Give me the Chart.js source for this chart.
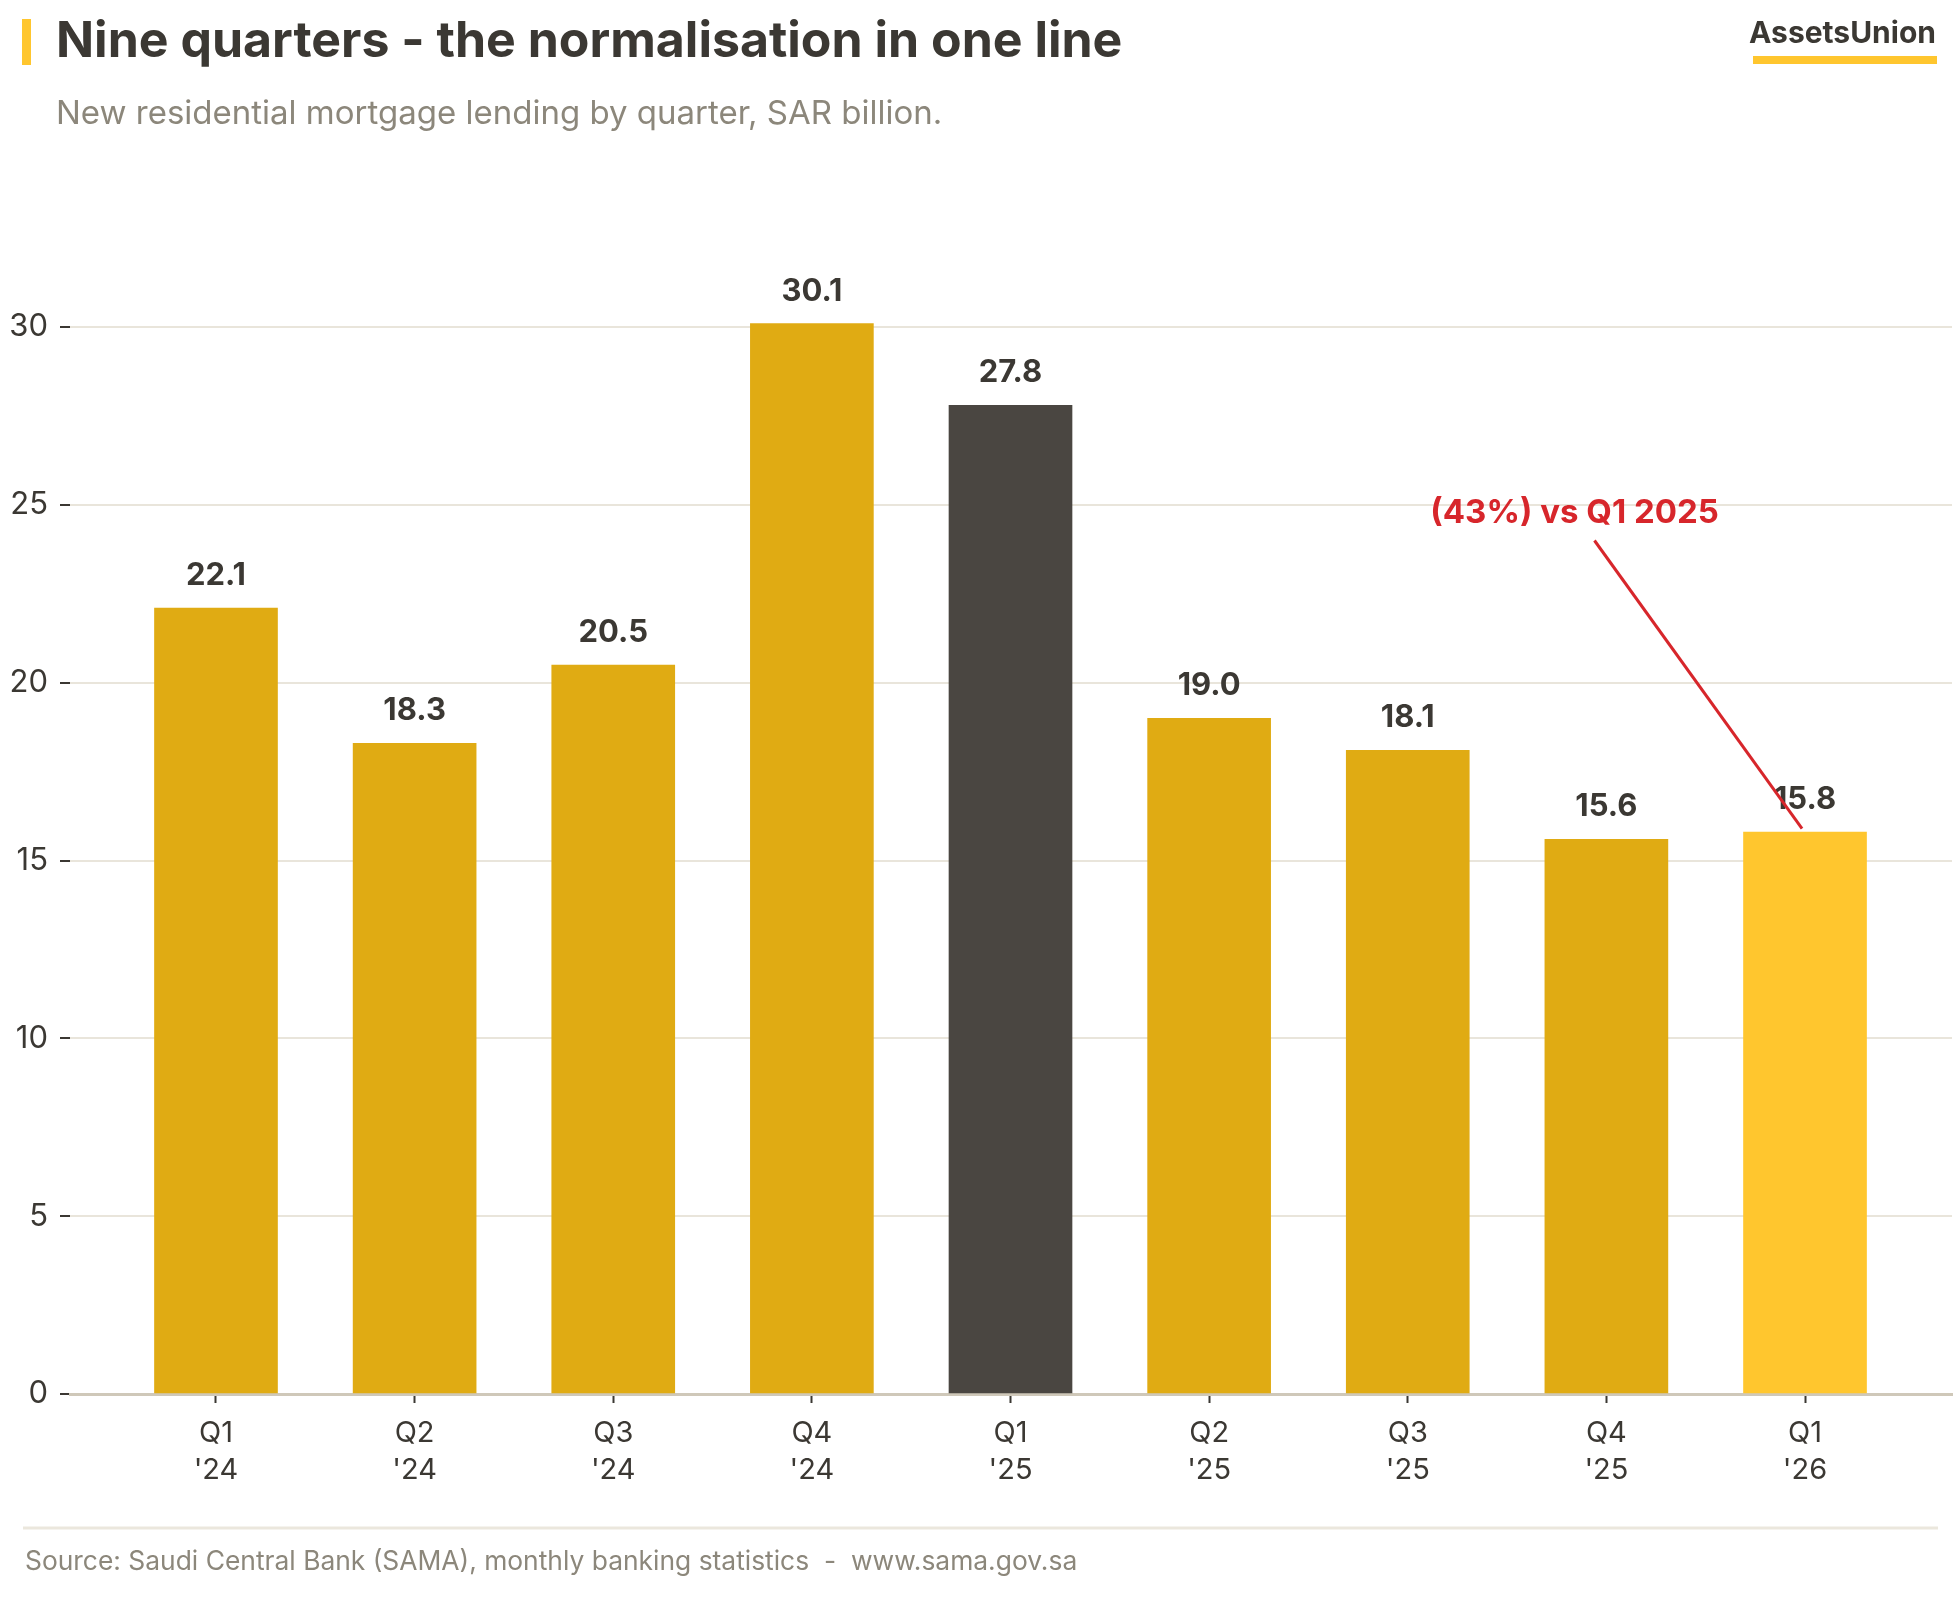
<!DOCTYPE html>
<html>
<head>
<meta charset="utf-8">
<title>Nine quarters - the normalisation in one line</title>
<script src="https://cdn.jsdelivr.net/npm/chart.js@4/dist/chart.umd.min.js"></script>
<style>
  html, body { margin: 0; padding: 0; background: #ffffff; }
  #chart { display: block; }
</style>
</head>
<body>
<canvas id="chart" width="1960" height="1600"></canvas>
<script>
// ── Data ──────────────────────────────────────────────────
const quarters = ['Q1', 'Q2', 'Q3', 'Q4', 'Q1', 'Q2', 'Q3', 'Q4', 'Q1'];
const years = ["'24", "'24", "'24", "'24", "'25", "'25", "'25", "'25", "'26"];
const lending = [22.1, 18.3, 20.5, 30.1, 27.8, 19.0, 18.1, 15.6, 15.8];
const yTicks = [0, 5, 10, 15, 20, 25, 30];

// annotation (data units)
const noteText = '(43%) vs Q1 2025';
const noteAt = [6.84, 24.5];
const arrowFrom = [6.94, 24.0];
const arrowTo = [7.985, 15.9];

// ── Palette ───────────────────────────────────────────────
const ink = '#3b3833';
const muted = '#8c877b';
const gold = '#E0AB13';
const dark = '#4A4641';
const bright = '#FFC62E';
const red = '#D7262B';
const gridColor = '#E9E5DB';
const axisColor = '#CFC8B9';

const barColors = lending.map((_, i) => (i === 4 ? dark : i === 8 ? bright : gold));

Chart.defaults.font.family = 'Inter, "Noto Sans", sans-serif';
Chart.defaults.color = ink;

/** Titles, value labels, annotation and footer drawn on top. */
const decorPlugin = {
  id: 'decor',
  afterDraw(chart) {
    const { ctx, scales } = chart;
    const x = scales.x;
    const y = scales.y;
    ctx.save();

    // value labels
    ctx.fillStyle = ink;
    ctx.font = 'bold 31px Inter, sans-serif';
    ctx.textAlign = 'center';
    ctx.textBaseline = 'alphabetic';
    lending.forEach((v, i) => {
      ctx.fillText(v.toFixed(1), x.getPixelForValue(i), y.getPixelForValue(v) - 23);
    });

    // annotation
    ctx.fillStyle = red;
    ctx.font = 'bold 33px Inter, sans-serif';
    ctx.fillText(noteText, x.getPixelForValue(noteAt[0]), y.getPixelForValue(noteAt[1]));
    ctx.strokeStyle = red;
    ctx.lineWidth = 3;
    ctx.beginPath();
    ctx.moveTo(x.getPixelForValue(arrowFrom[0]), y.getPixelForValue(arrowFrom[1]));
    ctx.lineTo(x.getPixelForValue(arrowTo[0]), y.getPixelForValue(arrowTo[1]));
    ctx.stroke();

    // header
    ctx.textAlign = 'left';
    ctx.fillStyle = bright;
    ctx.fillRect(22, 19, 9, 46);
    ctx.fillStyle = ink;
    ctx.font = 'bold 50px Inter, sans-serif';
    ctx.fillText('Nine quarters - the normalisation in one line', 56, 57);
    ctx.fillStyle = muted;
    ctx.font = '33px Inter, sans-serif';
    ctx.fillText('New residential mortgage lending by quarter, SAR billion.', 56, 124);

    // brand
    ctx.textAlign = 'right';
    ctx.fillStyle = ink;
    ctx.font = 'bold 30px Inter, sans-serif';
    ctx.fillText('AssetsUnion', 1936, 43);
    ctx.fillStyle = bright;
    ctx.fillRect(1753, 56, 184, 8);

    // footer
    ctx.strokeStyle = '#EBE7DD';
    ctx.lineWidth = 3;
    ctx.beginPath();
    ctx.moveTo(23, 1528);
    ctx.lineTo(1938, 1528);
    ctx.stroke();
    ctx.textAlign = 'left';
    ctx.fillStyle = muted;
    ctx.font = '26.4px Inter, sans-serif';
    ctx.fillText('Source: Saudi Central Bank (SAMA), monthly banking statistics  -  www.sama.gov.sa', 25, 1570);

    ctx.restore();
  },
};

new Chart(document.getElementById('chart'), {
  type: 'bar',
  data: {
    datasets: [{
      data: lending.map((v, i) => ({ x: i, y: v })),
      backgroundColor: barColors,
      borderWidth: 0,
      barThickness: 123,
    }],
  },
  options: {
    responsive: false,
    animation: false,
    events: [],
    layout: { padding: { top: 256, right: 8, bottom: 86, left: 0 } },
    plugins: { legend: { display: false }, tooltip: { enabled: false } },
    scales: {
      x: {
        type: 'linear',
        offset: false,
        min: -0.735,
        max: 8.74,
        afterBuildTicks: (s) => { s.ticks = quarters.map((_, i) => ({ value: i })); },
        afterFit: (s) => { s.height = 120; },
        ticks: {
          autoSkip: false,
          maxRotation: 0,
          padding: 12,
          font: { size: 29, lineHeight: 1.27 },
          color: ink,
          callback: (v) => [quarters[v], years[v]],
        },
        grid: { offset: false, drawOnChartArea: false, tickLength: 9, tickColor: ink, tickWidth: 2 },
        border: { display: true, color: axisColor, width: 3 },
      },
      y: {
        min: 0,
        max: 32,
        z: 1,
        afterBuildTicks: (s) => { s.ticks = yTicks.map((v) => ({ value: v })); },
        afterFit: (s) => { s.width = 70; },
        ticks: { padding: 12, font: { size: 31 }, color: ink },
        grid: {
          color: (c) => (c.tick && c.tick.value === 0 ? 'rgba(0,0,0,0)' : gridColor),
          lineWidth: 2,
          tickLength: 10,
          tickColor: ink,
          tickWidth: 2,
        },
        border: { display: false },
      },
    },
  },
  plugins: [decorPlugin],
});
</script>
</body>
</html>
